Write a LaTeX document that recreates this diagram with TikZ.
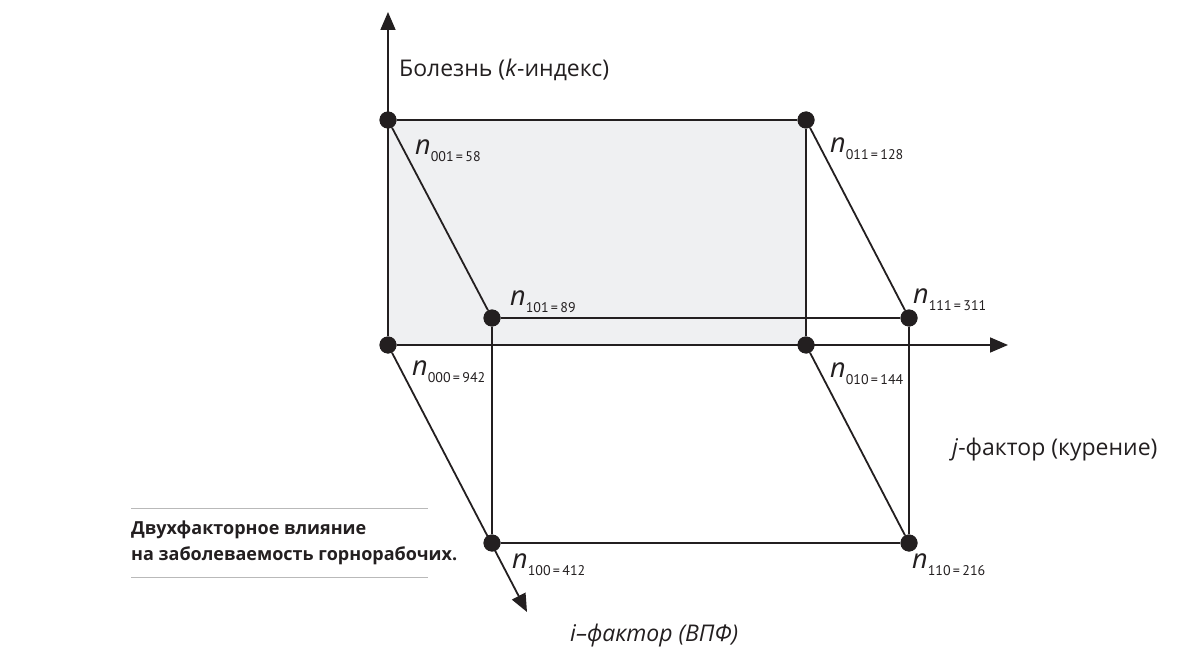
\documentclass[tikz,border=0pt]{standalone}
\usepackage{fontspec}
\setmainfont{Open Sans}
\newfontfamily\numfont{PT Sans}
\usetikzlibrary{arrows.meta}
\definecolor{ink}{HTML}{231F20}
\definecolor{facegray}{HTML}{EFF0F2}
\newcommand{\nlab}[2]{{\fontsize{27}{27}\selectfont\itshape n}\raisebox{-7pt}{\numfont\fontsize{14}{14}\selectfont #1\,=\,#2}}
\tikzset{
  dot/.style={circle, fill=ink, inner sep=0pt, minimum size=17pt},
  edge/.style={draw=ink, line width=1.8pt},
  axis/.style={edge, -{Triangle[width=15pt,length=18pt]}},
  lbl/.style={anchor=base west, inner sep=0pt, text=ink},
  axlbl/.style={anchor=base west, inner sep=0pt, text=ink, font=\fontsize{23}{23}\selectfont},
}
\begin{document}
\begin{tikzpicture}[x=1pt, y=-1pt]
            \useasboundingbox (0,0) rectangle (1187,650);

            % Draw front face
            \fill[facegray] (388,120) rectangle (806,345);

            % Corners of the cube
            \node[dot] (v001) at (388,120) {};
            \node[dot] (v011) at (806,120) {};
            \node[dot] (v000) at (388,345) {};
            \node[dot] (v010) at (806,345) {};
            \node[dot] (v101) at (492,318) {};
            \node[dot] (v111) at (909,318) {};
            \node[dot] (v100) at (492,543) {};
            \node[dot] (v110) at (909,543) {};

            % Axes
            \coordinate (ktip) at (388,12);
            \coordinate (jtip) at (1008,345);
            \coordinate (itip) at (527,612);
            \draw[axis] (v000) -- (ktip);
            \draw[axis] (v000) -- (jtip);
            \draw[axis] (v000) -- (itip);

            % Edges
            \draw[edge] (v001) -- (v011);
            \draw[edge] (v011) -- (v010);
            \draw[edge] (v001) -- (v101);
            \draw[edge] (v011) -- (v111);
            \draw[edge] (v010) -- (v110);
            \draw[edge] (v101) -- (v111);
            \draw[edge] (v101) -- (v100);
            \draw[edge] (v111) -- (v110);
            \draw[edge] (v100) -- (v110);

            % Redraw dots on top
            \foreach \v in {v001,v011,v000,v010,v101,v111,v100,v110}
                \fill[ink] (\v) circle (8.5pt);

            % Cell counts
            \node[lbl] (l001) at (415,155) {\nlab{001}{58}};
            \node[lbl] (l011) at (830,153) {\nlab{011}{128}};
            \node[lbl] (l000) at (412,375) {\nlab{000}{942}};
            \node[lbl] (l010) at (830,377) {\nlab{010}{144}};
            \node[lbl] (l101) at (510,305) {\nlab{101}{89}};
            \node[lbl] (l111) at (913,303) {\nlab{111}{311}};
            \node[lbl] (l100) at (512,568) {\nlab{100}{412}};
            \node[lbl] (l110) at (912,568) {\nlab{110}{216}};

            % Axis labels
            \node[axlbl] (kname) at (399,77) {Болезнь (\textit{k}-индекс)};
            \node[axlbl] (jname) at (952,455) {\textit{j}-фактор (курение)};
            \node[axlbl] (iname) at (570,641) {\itshape i–фактор (ВПФ)};

            % Caption
            \draw[gray!55, line width=1pt] (131,508) -- (428,508);
            \draw[gray!55, line width=1pt] (131,577) -- (428,577);
            \node[anchor=base west, inner sep=0pt, align=left, text=ink,
                  font=\fontsize{18}{26}\selectfont\bfseries] (caption) at (131,560)
                {Двухфакторное влияние\\на заболеваемость горнорабочих.};
        \end{tikzpicture}
\end{document}
